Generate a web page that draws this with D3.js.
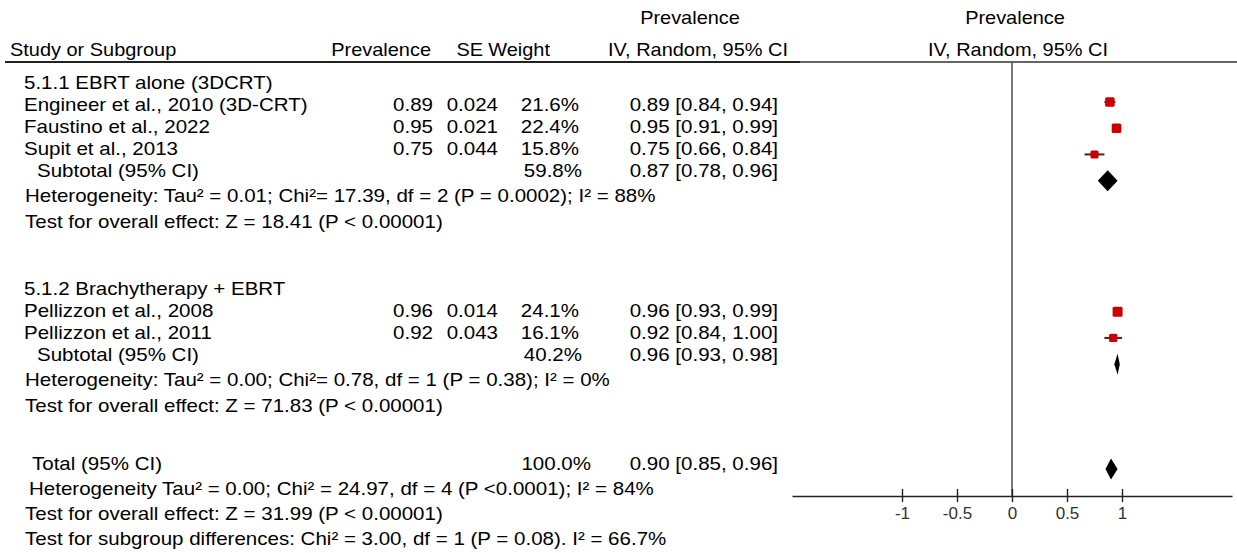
<!DOCTYPE html>
<html>
<head>
<meta charset="utf-8">
<script src="https://cdn.jsdelivr.net/npm/d3@7"></script>
<style>
  html, body { margin: 0; padding: 0; background: #fff; }
  svg { display: block; font-family: "Liberation Sans", Arial, Helvetica, sans-serif; }
</style>
</head>
<body>
<svg id="chart" width="1237" height="553"></svg>
<script>
// ---------------- data ----------------
const studies = ["Engineer et al., 2010 (3D-CRT)", "Faustino et al., 2022", "Supit et al., 2013",
                 "Pellizzon et al., 2008", "Pellizzon et al., 2011"];
const studyGroup = [0, 0, 0, 1, 1];
const prevalence = [0.89, 0.95, 0.75, 0.96, 0.92];
const se = [0.024, 0.021, 0.044, 0.014, 0.043];
const weight = [21.6, 22.4, 15.8, 24.1, 16.1];
const ciLow = [0.84, 0.91, 0.66, 0.93, 0.84];
const ciHigh = [0.94, 0.99, 0.84, 0.99, 1.00];

const subgroups = ["5.1.1 EBRT alone (3DCRT)", "5.1.2 Brachytherapy + EBRT"];
const subWeight = [59.8, 40.2];
const subEst = [0.87, 0.96];
const subLow = [0.78, 0.93];
const subHigh = [0.96, 0.98];
const subHet = ["Heterogeneity: Tau\u00B2 = 0.01; Chi\u00B2= 17.39, df = 2 (P = 0.0002); I\u00B2 = 88%",
                "Heterogeneity: Tau\u00B2 = 0.00; Chi\u00B2= 0.78, df = 1 (P = 0.38); I\u00B2 = 0%"];
const subTest = ["Test for overall effect: Z = 18.41 (P < 0.00001)",
                 "Test for overall effect: Z = 71.83 (P < 0.00001)"];

const totalWeight = 100.0;
const totalEst = 0.90, totalLow = 0.85, totalHigh = 0.96;
const totalNotes = ["Heterogeneity Tau\u00B2 = 0.00; Chi\u00B2 = 24.97, df = 4 (P <0.0001); I\u00B2 = 84%",
                    "Test for overall effect: Z = 31.99 (P < 0.00001)",
                    "Test for subgroup differences: Chi\u00B2 = 3.00, df = 1 (P = 0.08). I\u00B2 = 66.7%"];

const axisTicks = [-1, -0.5, 0, 0.5, 1];
const tickLabels = ["-1", "-0.5", "0", "0.5", "1"];

// plot-row index of each mark (ordinal position in the forest panel)
const studyPlotRow = [0, 1, 2, 8, 9];
const subPlotRow = [3, 10];
const totalPlotRow = 14;

// ---------------- layout ----------------
const svg = d3.select("#chart");
svg.append("rect").attr("width", 1237).attr("height", 553).attr("fill", "#fff");

const FS = 18, SX = 1.14, BASE = 6.5;
function txt(x, yc, s, anchor, opts) {
  opts = opts || {};
  return svg.append("text")
    .attr("transform", `translate(${x},${yc + (opts.base || BASE)}) scale(${opts.sx || SX},1)`)
    .attr("text-anchor", anchor || "start")
    .attr("font-size", opts.fs || FS)
    .attr("fill", opts.fill || "#000")
    .text(s);
}

const colName = 24, colSub = 37, colTotal = 32, colNote = 25;
const colPrev = 433, colSE = 498, colW = 579, colWsub = 582, colCI = 778;

const fmt2 = d3.format(".2f"), fmt3 = d3.format(".3f"), fmt1 = d3.format(".1f");
const ciText = (e, l, h) => `${fmt2(e)} [${fmt2(l)}, ${fmt2(h)}]`;

// headers
txt(690, 17, "Prevalence", "middle", {fs: 17.5});
txt(1015, 17, "Prevalence", "middle", {fs: 17.5});
txt(10, 49, "Study or Subgroup", "start", {fs: 17.5});
txt(431, 49, "Prevalence", "end", {fs: 17.5});
txt(483, 49, "SE", "end", {fs: 17.5});
txt(550, 49, "Weight", "end", {fs: 17.5});
txt(698, 49, "IV, Random, 95% CI", "middle", {fs: 17.5});
txt(1018, 49, "IV, Random, 95% CI", "middle", {fs: 17.5});

svg.append("line").attr("x1", 5).attr("x2", 800).attr("y1", 62).attr("y2", 62)
  .attr("stroke", "#222").attr("stroke-width", 2);
svg.append("line").attr("x1", 800).attr("x2", 1237).attr("y1", 62).attr("y2", 62)
  .attr("stroke", "#333").attr("stroke-width", 1.3);

// table rows
const groupTop = [82, 288];
const rowStep = 22;
subgroups.forEach((g, gi) => {
  const y0 = groupTop[gi];
  txt(colName, y0, g);
  const idx = studies.map((s, i) => i).filter(i => studyGroup[i] === gi);
  idx.forEach((i, k) => {
    const y = y0 + rowStep * (k + 1);
    txt(colName, y, studies[i]);
    txt(colPrev, y, fmt2(prevalence[i]), "end");
    txt(colSE, y, fmt3(se[i]), "end");
    txt(colW, y, fmt1(weight[i]) + "%", "end");
    txt(colCI, y, ciText(prevalence[i], ciLow[i], ciHigh[i]), "end");
  });
  const ys = y0 + rowStep * (idx.length + 1);
  txt(colSub, ys, "Subtotal (95% CI)");
  txt(colWsub, ys, fmt1(subWeight[gi]) + "%", "end");
  txt(colCI, ys, ciText(subEst[gi], subLow[gi], subHigh[gi]), "end");
  txt(colNote, ys + 25, subHet[gi]);
  txt(colNote, ys + 51, subTest[gi]);
});

const yTot = 463;
txt(colTotal, yTot, "Total (95% CI)");
txt(591, yTot, fmt1(totalWeight) + "%", "end");
txt(colCI, yTot, ciText(totalEst, totalLow, totalHigh), "end");
totalNotes.forEach((n, i) => txt(i === 0 ? 29 : colNote, yTot + 25 * (i + 1), n));

// ---------------- forest panel ----------------
const x = d3.scaleLinear().domain([-2, 2]).range([792, 1232]);
const yP = d3.scaleLinear().domain([0, 14]).range([102, 469]);
const axisY = 496;
const size = d3.scaleSqrt().domain([0, 24.1]).range([0, 10]);

// zero line
svg.append("line").attr("x1", x(0)).attr("x2", x(0)).attr("y1", 62).attr("y2", axisY)
  .attr("stroke", "#555").attr("stroke-width", 1.6);

// axis
const axis = d3.axisBottom(x).tickValues(axisTicks).tickFormat((d, i) => tickLabels[i])
  .tickSizeInner(-7).tickSizeOuter(0).tickPadding(11);
const ag = svg.append("g").attr("transform", `translate(0,${axisY})`).call(axis);
ag.select(".domain").attr("stroke", "#222").attr("stroke-width", 1.4);
ag.selectAll(".tick line").attr("y1", 6).attr("stroke", "#222").attr("stroke-width", 1.4);
ag.selectAll(".tick text").attr("font-size", 17).attr("fill", "#333")
  .attr("font-family", "'Liberation Sans', Arial, sans-serif");

// study CIs and squares
const sIdx = studies.map((s, i) => i);
svg.selectAll("line.ci").data(sIdx).join("line").attr("class", "ci")
  .attr("x1", i => x(ciLow[i])).attr("x2", i => x(ciHigh[i]))
  .attr("y1", i => yP(studyPlotRow[i])).attr("y2", i => yP(studyPlotRow[i]))
  .attr("stroke", "#5a1a1a").attr("stroke-width", 2);
svg.selectAll("rect.sq").data(sIdx).join("rect").attr("class", "sq")
  .attr("x", i => x(prevalence[i]) - size(weight[i]) / 2)
  .attr("y", i => yP(studyPlotRow[i]) - size(weight[i]) / 2)
  .attr("width", i => size(weight[i])).attr("height", i => size(weight[i]))
  .attr("rx", 1.5)
  .attr("fill", "#cc0000");

// diamonds
const diamonds = subEst.map((e, i) => ({e, l: subLow[i], h: subHigh[i], r: subPlotRow[i]}))
  .concat([{e: totalEst, l: totalLow, h: totalHigh, r: totalPlotRow}]);
const dh = 10.5;
svg.selectAll("path.dia").data(diamonds).join("path").attr("class", "dia")
  .attr("d", d => {
    const yc = yP(d.r);
    return `M${x(d.l)},${yc}L${x(d.e)},${yc - dh}L${x(d.h)},${yc}L${x(d.e)},${yc + dh}Z`;
  })
  .attr("fill", "#000");
</script>
</body>
</html>
